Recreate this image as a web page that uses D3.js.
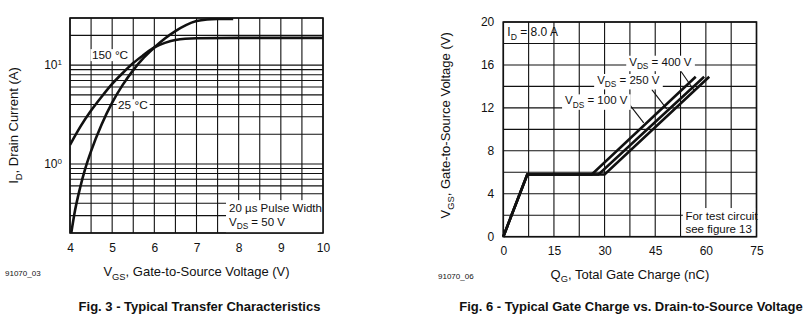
<!DOCTYPE html>
<html><head><meta charset="utf-8">
<script src="https://cdn.jsdelivr.net/npm/d3@7"></script>
<style>
html,body{margin:0;padding:0;background:#fff;}
svg{display:block;font-family:"Liberation Sans",Arial,Helvetica,sans-serif;fill:#111;}
</style></head><body>
<svg id="c" width="812" height="322"></svg>
<script>
// ---- Fig. 3: typical transfer characteristics (VGS in V, ID in A) ----
const vgs25  = [4.03, 4.12, 4.24, 4.36, 4.50, 4.75, 5.00, 5.25, 5.50, 5.75, 6.00, 6.25, 6.50, 6.75, 7.00, 7.25, 7.50, 7.87];
const id25   = [0.20, 0.339, 0.575, 0.891, 1.35, 2.51, 4.17, 6.31, 8.91, 11.9, 15.1, 18.6, 22.1, 25.4, 27.9, 29.0, 29.3, 29.4];
const vgs150 = [4.00, 4.25, 4.50, 4.75, 5.00, 5.25, 5.50, 5.75, 6.00, 6.25, 6.50, 7.00, 8.00, 10.0];
const id150  = [1.56, 2.40, 3.47, 4.79, 6.46, 8.32, 10.5, 12.7, 15.1, 16.8, 18.0, 18.7, 18.9, 18.9];
const vgsTicks = [4, 5, 6, 7, 8, 9, 10];
const idTicks = [1, 10];
const idTickExp = ["0", "1"];

// ---- Fig. 6: typical gate charge (QG in nC, VGS in V) ----
const vdsValues = ["100", "250", "400"];
const qg100 = [0, 7.1, 26.2, 57.0];
const qg250 = [0, 7.1, 28.2, 59.5];
const qg400 = [0, 7.1, 30.0, 61.0];
const vgsCharge = [0, 5.8, 5.8, 14.9];
const qgTicks = [0, 15, 30, 45, 60, 75];
const vgsAxisTicks = [0, 4, 8, 12, 16, 20];

const svg = d3.select("#c");
const INK = "#111";

// text helper: parts = [[string, "sub"|"sup"|null], ...]
function rich(g, parts, size) {
  const t = g.append("text").attr("font-size", size);
  let shift = 0;
  parts.forEach(([s, kind]) => {
    const target = kind === "sub" ? size * 0.3 : kind === "sup" ? -size * 0.38 : 0;
    t.append("tspan")
      .attr("dy", target - shift)
      .attr("font-size", kind ? size * 0.72 : size)
      .text(s);
    shift = target;
  });
  return t;
}

function frame(g, x0, x1, y0, y1) {
  g.append("rect").attr("x", x0).attr("y", y1).attr("width", x1 - x0).attr("height", y0 - y1)
    .attr("fill", "none").attr("stroke", INK).attr("stroke-width", 1.6);
}

// ================= left chart =================
{
  const x = d3.scaleLinear().domain([4, 10]).range([70, 323]);
  const y = d3.scaleLog().domain([0.2, 30]).range([233, 18]);
  const g = svg.append("g");

  g.append("clipPath").attr("id", "clipL").append("rect")
    .attr("x", 70).attr("y", 18).attr("width", 253).attr("height", 215);

  // grid
  const vLines = d3.range(4, 10.01, 0.5);
  const hLines = [0.2,0.3,0.4,0.5,0.6,0.7,0.8,0.9,1,2,3,4,5,6,7,8,9,10,20,30];
  g.selectAll(".gv").data(vLines).join("line")
    .attr("x1", d => x(d)).attr("x2", d => x(d)).attr("y1", y(30)).attr("y2", y(0.2))
    .attr("stroke", INK).attr("stroke-width", 1.1);
  g.selectAll(".gh").data(hLines).join("line")
    .attr("x1", x(4)).attr("x2", x(10)).attr("y1", d => y(d)).attr("y2", d => y(d))
    .attr("stroke", INK).attr("stroke-width", 1.1);

  // annotation boxes
  const pulseX = 7.70, pulseY = 0.43;
  g.append("rect").attr("x", x(pulseX)).attr("y", y(pulseY))
    .attr("width", x(10) - x(pulseX)).attr("height", y(0.2) - y(pulseY)).attr("fill", "#fff");

  // curves
  const line = d3.line().curve(d3.curveMonotoneX);
  const curves = [[vgs25, id25], [vgs150, id150]];
  curves.forEach(([vx, vy]) => {
    g.append("path").attr("clip-path", "url(#clipL)")
      .attr("d", line(vx.map((v, i) => [x(v), y(vy[i])])))
      .attr("fill", "none").attr("stroke", INK).attr("stroke-width", 2.6);
  });

  frame(g, x(4), x(10), y(0.2), y(30));

  // temperature labels
  const tLabels = [["150 °C", 4.52, 12.7], ["25 °C", 5.14, 3.95]];
  tLabels.forEach(([s, vx, vy]) => {
    const t = g.append("text").attr("x", x(vx)).attr("y", y(vy)).attr("dy", "0.36em")
      .attr("font-size", 11.8).text(s);
    const b = t.node().getBBox();
    g.insert("rect", () => t.node()).attr("x", b.x - 1.5).attr("y", b.y + 1).attr("width", b.width + 3)
      .attr("height", b.height - 2).attr("fill", "#fff");
  });

  g.append("text").attr("x", x(pulseX) + 3).attr("y", y(pulseY) + 11.5).attr("font-size", 11.5)
    .text("20 µs Pulse Width");
  rich(g, [["V"], ["DS", "sub"], [" = 50 V"]], 11.5)
    .attr("x", x(pulseX) + 3).attr("y", y(pulseY) + 25.5);

  // axes
  const ax = g.append("g").attr("transform", `translate(0,${y(0.2)})`)
    .call(d3.axisBottom(x).tickValues(vgsTicks).tickSize(0).tickPadding(10).tickFormat(d3.format("d")));
  ax.select(".domain").remove();
  ax.selectAll("text").attr("font-size", 12).attr("fill", INK).attr("font-family", null);

  const ay = g.append("g").attr("transform", `translate(${x(4)},0)`)
    .call(d3.axisLeft(y).tickValues(idTicks).tickSize(0).tickPadding(8).tickFormat(() => ""));
  ay.select(".domain").remove();
  ay.selectAll("text").each(function (d, i) {
    const t = d3.select(this).attr("font-size", 12).attr("fill", INK).attr("font-family", null);
    t.append("tspan").text("10");
    t.append("tspan").attr("font-size", 8).attr("dy", -4.5).text(idTickExp[i]);
  });

  rich(g, [["V"], ["GS", "sub"], [", Gate-to-Source Voltage (V)"]], 13)
    .attr("x", (x(4) + x(10)) / 2).attr("y", 276).attr("text-anchor", "middle");
  rich(g, [["I"], ["D", "sub"], [", Drain Current (A)"]], 13)
    .attr("text-anchor", "middle").attr("transform", `translate(18,${(y(0.2) + y(30)) / 2}) rotate(-90)`);
  g.append("text").attr("x", 5).attr("y", 276).attr("font-size", 8).text("91070_03");
  g.append("text").attr("x", 199.5).attr("y", 311).attr("text-anchor", "middle")
    .attr("font-size", 13).attr("font-weight", "bold").text("Fig. 3 - Typical Transfer Characteristics");
}

// ================= right chart =================
{
  const x = d3.scaleLinear().domain([0, 75]).range([503.3, 756.5]);
  const y = d3.scaleLinear().domain([0, 20]).range([236.7, 22]);
  const g = svg.append("g");

  const boxQ = 53.2, boxV = 2.67;
  g.selectAll(".gv").data(d3.range(0, 75.01, 7.5)).join("line")
    .attr("x1", d => x(d)).attr("x2", d => x(d)).attr("y1", y(20)).attr("y2", y(0))
    .attr("stroke", INK).attr("stroke-width", 1.1);
  g.selectAll(".gh").data(d3.range(0, 20.01, 2)).join("line")
    .attr("x1", x(0)).attr("x2", x(75)).attr("y1", d => y(d)).attr("y2", d => y(d))
    .attr("stroke", INK).attr("stroke-width", 1.1);

  // test-circuit note box
  g.append("rect").attr("x", x(boxQ)).attr("y", y(boxV)).attr("width", x(75) - x(boxQ))
    .attr("height", y(0) - y(boxV)).attr("fill", "#fff");
  g.append("text").attr("x", x(boxQ) + 2.5).attr("y", y(boxV) + 11.5).attr("font-size", 11.5).text("For test circuit");
  g.append("text").attr("x", x(boxQ) + 2.5).attr("y", y(boxV) + 24.5).attr("font-size", 11.5).text("see figure 13");

  // curves
  const line = d3.line();
  [qg100, qg250, qg400].forEach(qs => {
    g.append("path").attr("d", line(qs.map((q, i) => [x(q), y(vgsCharge[i])])))
      .attr("fill", "none").attr("stroke", INK).attr("stroke-width", 2.6).attr("stroke-linejoin", "miter");
  });

  // VDS labels with leader lines: [text x (nC), text y (V), leader from, leader to]
  const vdsPos = [
    [18.3, 12.7, [37.4, 12.3], [41.6, 10.6]],
    [27.8, 14.6, [44.0, 13.7], [48.4, 11.9]],
    [37.3, 16.3, [52.4, 15.5], [56.6, 13.6]]
  ];
  vdsValues.forEach((v, i) => {
    const [tq, tv, a, b] = vdsPos[i];
    g.append("line").attr("x1", x(a[0])).attr("y1", y(a[1])).attr("x2", x(b[0])).attr("y2", y(b[1]))
      .attr("stroke", INK).attr("stroke-width", 1.1);
    const t = rich(g, [["V"], ["DS", "sub"], [` = ${v} V`]], 11.5)
      .attr("x", x(tq)).attr("y", y(tv) + 4);
    const bb = t.node().getBBox();
    g.insert("rect", () => t.node()).attr("x", bb.x - 3).attr("y", bb.y).attr("width", bb.width + 6)
      .attr("height", bb.height).attr("fill", "#fff");
  });

  rich(g, [["I"], ["D", "sub"], [" = 8.0 A"]], 12).attr("x", x(0) + 4).attr("y", y(20) + 14);

  frame(g, x(0), x(75), y(0), y(20));

  const ax = g.append("g").attr("transform", `translate(0,${y(0)})`)
    .call(d3.axisBottom(x).tickValues(qgTicks).tickSize(0).tickPadding(10));
  ax.select(".domain").remove();
  ax.selectAll("text").attr("font-size", 12).attr("fill", INK).attr("font-family", null);

  const ay = g.append("g").attr("transform", `translate(${x(0)},0)`)
    .call(d3.axisLeft(y).tickValues(vgsAxisTicks).tickSize(0).tickPadding(9));
  ay.select(".domain").remove();
  ay.selectAll("text").attr("font-size", 12).attr("fill", INK).attr("font-family", null);

  rich(g, [["Q"], ["G", "sub"], [", Total Gate Charge (nC)"]], 13)
    .attr("x", (x(0) + x(75)) / 2).attr("y", 278.5).attr("text-anchor", "middle");
  rich(g, [["V"], ["GS", "sub"], [", Gate-to-Source Voltage (V)"]], 13)
    .attr("text-anchor", "middle").attr("transform", `translate(450,${(y(0) + y(20)) / 2 - 4}) rotate(-90)`);
  g.append("text").attr("x", 438).attr("y", 279).attr("font-size", 8).text("91070_06");
  g.append("text").attr("x", 631).attr("y", 311).attr("text-anchor", "middle")
    .attr("font-size", 13).attr("font-weight", "bold").text("Fig. 6 - Typical Gate Charge vs. Drain-to-Source Voltage");
}
</script>
</body></html>
